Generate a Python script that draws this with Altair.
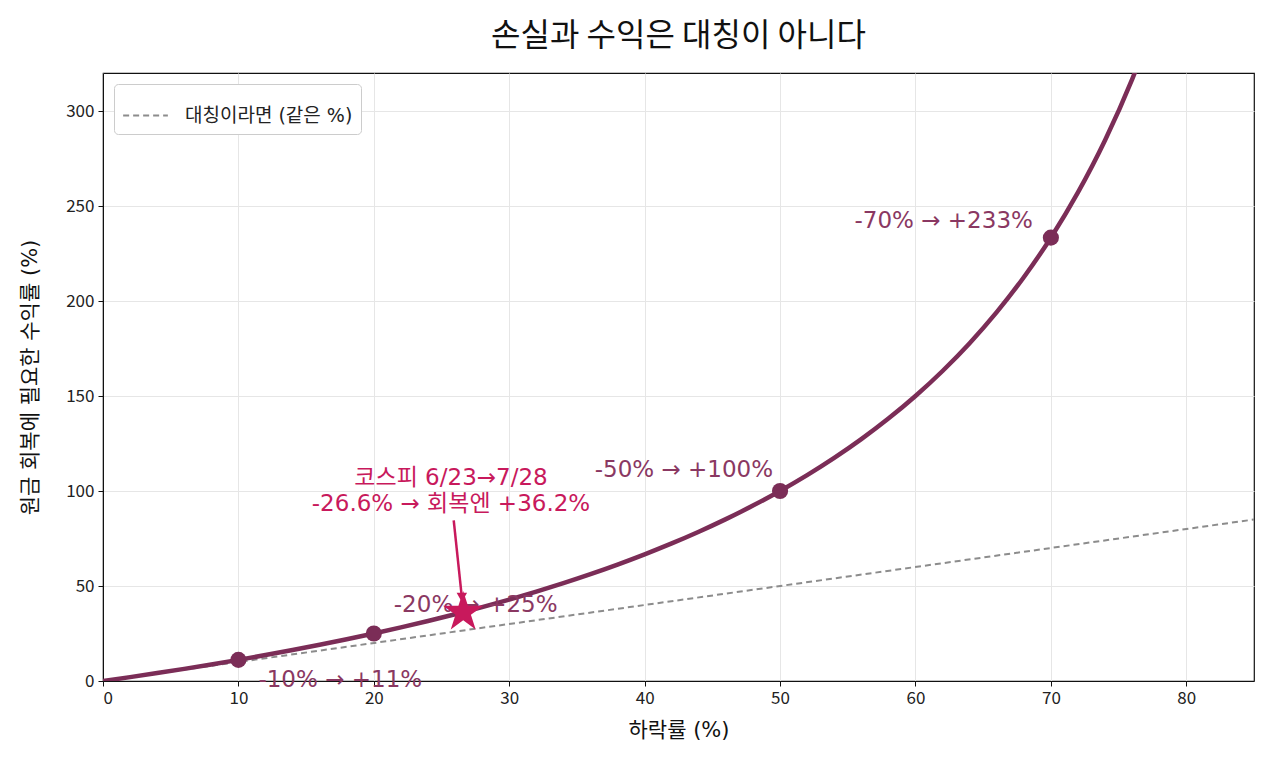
import pandas as pd
import altair as alt

# drop (%) -> gain needed to get back to break-even (%)
drop = [0, 2, 4, 6, 8, 10, 12, 14, 16, 18, 20, 22, 24, 26, 28, 30, 32, 34, 36, 38,
        40, 42, 44, 46, 48, 50, 52, 54, 56, 58, 60, 62, 64, 66, 68, 70, 72, 74, 76, 77]
gain = [0, 2.04, 4.17, 6.38, 8.70, 11.11, 13.64, 16.28, 19.05, 21.95, 25.00, 28.21,
        31.58, 35.14, 38.89, 42.86, 47.06, 51.52, 56.25, 61.29, 66.67, 72.41, 78.57,
        85.19, 92.31, 100.00, 108.33, 117.39, 127.27, 138.10, 150.00, 163.16, 177.78,
        194.12, 212.50, 233.33, 257.14, 284.62, 316.67, 334.78]

sym_x = [0, 85]
sym_y = [0, 85]

key_drop = [10, 20, 50, 70]
key_gain = [11.11, 25.0, 100.0, 233.33]
key_label = ["-10% → +11%", "-20% → +25%", "-50% → +100%", "-70% → +233%"]

kospi_drop = 26.6
kospi_gain = 36.2
kospi_text = ["코스피 6/23→7/28", "-26.6% → 회복엔 +36.2%"]
arrow_x = [25.9, 26.5]
arrow_y = [84.5, 44.0]

FONT = "Noto Sans CJK KR"
MIX = "DejaVu Sans, Noto Sans CJK KR"
CURVE = "#7B2D57"
LABEL = "#8A3862"
STAR = "#C8195C"

curve_df = pd.DataFrame({"drop": drop, "gain": gain})
sym_df = pd.DataFrame({"drop": sym_x, "gain": sym_y, "kind": ["대칭이라면 (같은 %)"] * 2})
key_df = pd.DataFrame({"drop": key_drop, "gain": key_gain, "label": key_label})
star_df = pd.DataFrame({"drop": [kospi_drop], "gain": [kospi_gain]})
arrow_df = pd.DataFrame({"x": [arrow_x[0]], "y": [arrow_y[0]], "x2": [arrow_x[1]], "y2": [arrow_y[1]]})
head_df = pd.DataFrame({"drop": [arrow_x[1]], "gain": [arrow_y[1]]})
ktext_df = pd.DataFrame({"drop": [25.7], "gain": [107.0], "label": [kospi_text]})

xs = alt.Scale(domain=[0, 85], nice=False, zero=False)
ys = alt.Scale(domain=[0, 320], nice=False)

x_enc = alt.X("drop:Q", scale=xs, title="하락률 (%)",
              axis=alt.Axis(values=[0, 10, 20, 30, 40, 50, 60, 70, 80]))
y_enc = alt.Y("gain:Q", scale=ys, title="원금 회복에 필요한 수익률 (%)",
              axis=alt.Axis(values=[0, 50, 100, 150, 200, 250, 300]))

sym = alt.Chart(sym_df).mark_line(strokeDash=[6, 4], strokeWidth=2, clip=True).encode(
    x=x_enc, y=y_enc,
    color=alt.Color("kind:N", scale=alt.Scale(range=["#8c8c8c"]),
                    legend=alt.Legend(title=None, orient="top-left", offset=11,
                                      symbolType="stroke", symbolStrokeWidth=2,
                                      symbolDash=[6, 4], symbolSize=2000, labelOffset=16,
                                      labelFontSize=19, labelFont=MIX, labelColor="#222",
                                      labelLimit=400, padding=8, fillColor="white",
                                      strokeColor="#cccccc", cornerRadius=4))
)

curve = alt.Chart(curve_df).mark_line(color=CURVE, strokeWidth=4.5, clip=True,
                                      interpolate="monotone").encode(x="drop:Q", y="gain:Q")

dots = alt.Chart(key_df).mark_circle(color=CURVE, size=260, opacity=1).encode(x="drop:Q", y="gain:Q")

def key_text(i, align, dx, dy):
    return alt.Chart(key_df.iloc[[i]]).mark_text(
        align=align, baseline="middle", dx=dx, dy=dy, fontSize=23, font=MIX,
        color=LABEL
    ).encode(x="drop:Q", y="gain:Q", text="label:N")

t10 = key_text(0, "left", 20, 20)
t20 = key_text(1, "left", 20, -29)
t50 = key_text(2, "right", -7, -21)
t70 = key_text(3, "right", -18, -17)

arrow = alt.Chart(arrow_df).mark_rule(color=STAR, strokeWidth=2.5).encode(
    x="x:Q", y="y:Q", x2="x2:Q", y2="y2:Q")
head = alt.Chart(head_df).mark_point(shape="triangle-down", filled=True, color=STAR,
                                     size=110, opacity=1).encode(x="drop:Q", y="gain:Q")

star_path = ("M0,-1L0.2245,-0.309L0.9511,-0.309L0.3633,0.118L0.5878,0.809L0,0.382"
             "L-0.5878,0.809L-0.3633,0.118L-0.9511,-0.309L-0.2245,-0.309Z")
star = alt.Chart(star_df).mark_point(shape=star_path, filled=True, color=STAR,
                                     size=1800, opacity=1).encode(x="drop:Q", y="gain:Q")

ktext = alt.Chart(ktext_df).mark_text(
    align="center", baseline="middle", fontSize=23, font=MIX, color=STAR, lineHeight=26
).encode(x="drop:Q", y="gain:Q", text="label")

chart = alt.layer(sym, curve, dots, t10, t20, t50, t70, arrow, head, star, ktext).properties(
    width=1151, height=608,
    padding={"left": 11, "top": 12, "right": 5, "bottom": 5},
    title=alt.TitleParams("손실과 수익은 대칭이 아니다", fontSize=32, font=FONT,
                          fontWeight="normal", color="#111", offset=20)
).configure_view(stroke="#111", strokeWidth=1.2).configure_axis(
    labelFont=FONT, titleFont=MIX, labelFontSize=17, titleFontSize=21,
    titleFontWeight="normal", labelColor="#222", titleColor="#111",
    grid=True, gridColor="#e6e6e6", domainColor="#111", tickColor="#111",
    tickSize=5, labelPadding=4
).configure_axisX(titlePadding=13).configure_axisY(titlePadding=25)

chart.save("out.html", embed_options={"renderer": "svg", "actions": False})
